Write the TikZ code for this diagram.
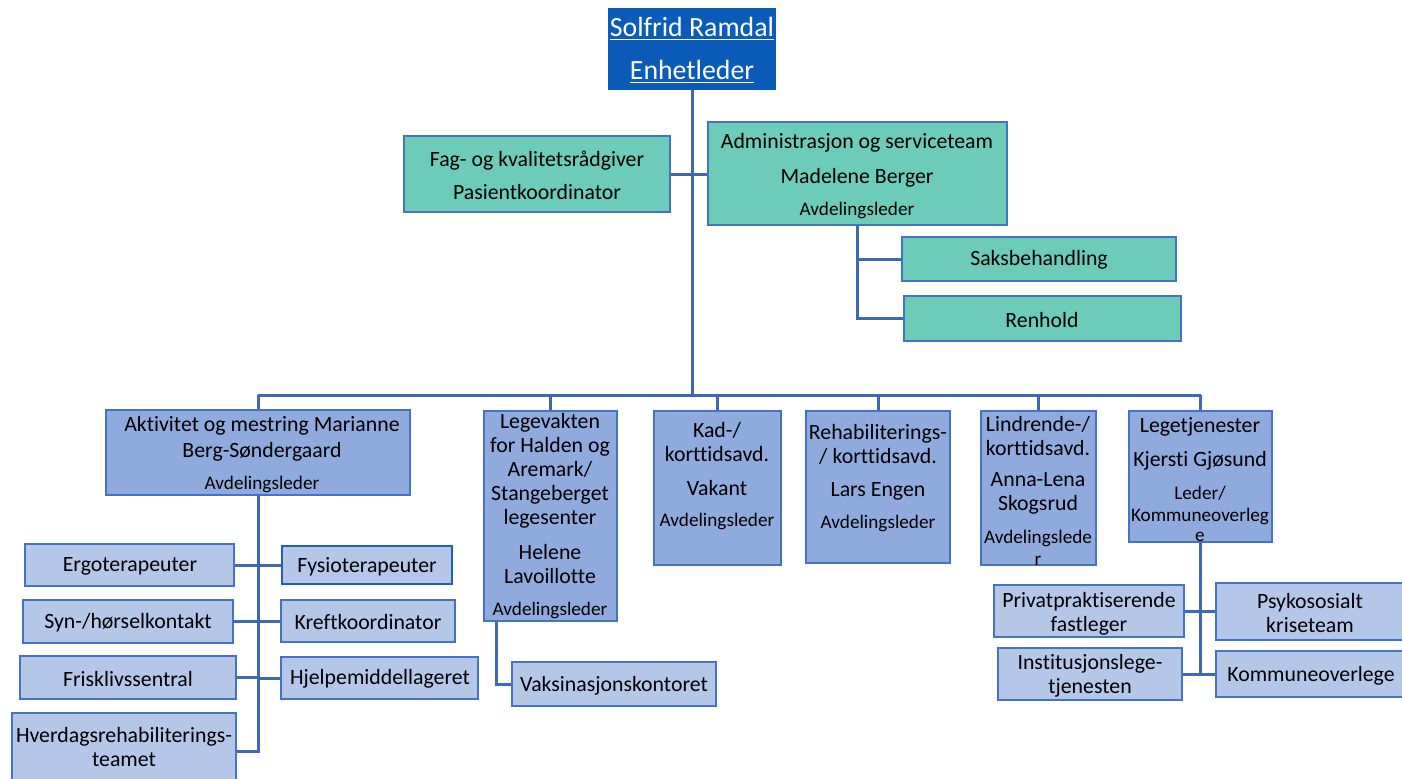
\documentclass[tikz,border=0pt]{standalone}
\usepackage{fontspec}
\setmainfont{Carlito}[Ligatures=NoCommon]
\usetikzlibrary{fit,calc}
\definecolor{topblue}{HTML}{0A5CB8}
\definecolor{tealfill}{HTML}{6CCBB9}
\definecolor{lvtwo}{HTML}{8FAADC}
\definecolor{lvthree}{HTML}{B4C7E7}
\definecolor{edgeblue}{HTML}{4472C4}
\definecolor{darkedge}{HTML}{1F5FB5}
\definecolor{connblue}{HTML}{3F67B6}
\newcommand{\fmain}{\fontsize{10.9}{12}\selectfont}
\newcommand{\fsmall}{\fontsize{9.6}{11}\selectfont}
\begin{document}
\begin{tikzpicture}[x=0.5pt,y=-0.5pt,
  boxbase/.style={draw=edgeblue, line width=1pt, inner sep=0pt},
  topbox/.style={boxbase, fill=topblue, draw=topblue},
  tealbox/.style={boxbase, fill=tealfill},
  ltwo/.style={boxbase, fill=lvtwo},
  lthree/.style={boxbase, fill=lvthree},
  txt/.style={align=center, font=\fmain, inner sep=0pt, text=black, yshift=-0.9pt},
  conn/.style={draw=connblue, line width=1.5pt}]
\useasboundingbox (0,0) rectangle (1402,778);
\fill[white] (0,0) rectangle (1402,778);
% boxes
\node[topbox, fit={(609,9) (775,89)}] (topB) {};
\node[tealbox, fit={(404,136) (670,212)}] (fagB) {};
\node[tealbox, fit={(708,122) (1007,225)}] (admB) {};
\node[tealbox, fit={(902,237) (1176,281)}] (saksB) {};
\node[tealbox, fit={(904,296) (1181,341)}] (renhB) {};
\node[ltwo, fit={(106,410) (410,495)}] (aktB) {};
\node[ltwo, fit={(484,411) (617,621)}] (legB) {};
\node[ltwo, fit={(654,411) (781,565)}] (kadB) {};
\node[ltwo, fit={(806,411) (950,563)}] (rehB) {};
\node[ltwo, fit={(981,411) (1096,565)}] (linB) {};
\node[ltwo, fit={(1129,411) (1272,542)}] (legetB) {};
\node[lthree, fit={(25,544) (234,586)}] (ergoB) {};
\node[lthree, fit={(23,600) (233,643)}] (synB) {};
\node[lthree, fit={(20,656) (236,699)}] (friskB) {};
\node[lthree, fit={(12,713) (236,790)}] (hverdB) {};
\node[lthree, draw=darkedge, line width=1.3pt, fit={(282,546) (452,584)}] (fysioB) {};
\node[lthree, fit={(281,600) (455,642)}] (kreftB) {};
\node[lthree, fit={(281,657) (478,699)}] (hjelpB) {};
\node[lthree, fit={(512,662) (716,706)}] (vaksB) {};
\node[lthree, fit={(994,585) (1184,637)}] (privB) {};
\node[lthree, fit={(1216,583) (1410,640)}] (psykB) {};
\node[lthree, fit={(998,648) (1182,700)}] (instB) {};
\node[lthree, fit={(1216,651) (1410,697)}] (kommB) {};
% texts
\node[txt, text=white, font=\fontsize{13.9}{21.5}\selectfont] (topT) at (692,49) {\underline{Solfrid Ramdal}\\\underline{Enhetleder}};
\node[txt] (fagT) at (537,173.5) {Fag- og kvalitetsrådgiver\\[4.5pt]Pasientkoordinator};
\node[txt] (admT) at (857,174.5) {Administrasjon og serviceteam\\[5.5pt]Madelene Berger\\[4pt]{\fsmall Avdelingsleder}};
\node[txt] (saksT) at (1039,258) {Saksbehandling};
\node[txt] (renhT) at (1042,318) {Renhold};
\node[txt] (aktT) at (262,453) {Aktivitet og mestring Marianne\\[1pt]Berg-Søndergaard\\[4pt]{\fsmall Avdelingsleder}};
\node[txt] (legT) at (550,514.5) {Legevakten\\for Halden og\\Aremark/\\Stangeberget\\legesenter\\[5.5pt]Helene\\Lavoillotte\\[4pt]{\fsmall Avdelingsleder}};
\node[txt] (kadT) at (717,474) {Kad-/\\korttidsavd.\\[5pt]Vakant\\[3.5pt]{\fsmall Avdelingsleder}};
\node[txt] (rehT) at (878,476) {Rehabiliterings-\\/ korttidsavd.\\[4.5pt]Lars Engen\\[4pt]{\fsmall Avdelingsleder}};
\node[txt] (linT) at (1038,489.5) {Lindrende-/\\korttidsavd.\\[3.5pt]Anna-Lena\\Skogsrud\\[4.5pt]{\fsmall Avdelingslede}\\[-1pt]{\fsmall r}};
\node[txt] (legetT) at (1200,477.5) {Legetjenester\\[5pt]Kjersti Gjøsund\\[4.5pt]{\fsmall Leder/}\\[-1pt]{\fsmall Kommuneoverleg}\\[-2pt]{\fsmall e}};
\node[txt] (ergoT) at (130,565) {Ergoterapeuter};
\node[txt] (synT) at (128,621) {Syn-/hørselkontakt};
\node[txt] (friskT) at (128,677) {Frisklivssentral};
\node[txt] (hverdT) at (124,745) {Hverdagsrehabiliterings-\\teamet};
\node[txt] (fysioT) at (367,565) {Fysioterapeuter};
\node[txt] (kreftT) at (368,620) {Kreftkoordinator};
\node[txt] (hjelpT) at (380,677) {Hjelpemiddellageret};
\node[txt] (vaksT) at (614,684) {Vaksinasjonskontoret};
\node[txt] (privT) at (1089,611.5) {Privatpraktiserende\\fastleger};
\node[txt] (psykT) at (1310,611.5) {Psykososialt\\kriseteam};
\node[txt] (instT) at (1090,674) {Institusjonslege-\\tjenesten};
\node[txt] (kommT) at (1311,674) {Kommuneoverlege};
% connectors
\coordinate (bus) at (692,395);
\draw[conn] (topB.south) -- (bus);
\draw[conn] (fagB.east) -- (fagB.east -| admB.west);
\draw[conn] (admB.south) |- (saksB.west);
\draw[conn] (admB.south) |- (renhB.west);
\draw[conn] (aktB.north |- bus) -- (legetB.north |- bus);
\foreach \n in {aktB,legB,kadB,rehB,linB,legetB} \draw[conn] (\n.north |- bus) -- (\n.north);
\draw[conn] (aktB.south) |- (hverdB.east);
\foreach \n in {ergoB,synB,friskB} \draw[conn] (aktB.south |- \n.east) -- (\n.east);
\foreach \n in {fysioB,kreftB,hjelpB} \draw[conn] (aktB.south |- \n.west) -- (\n.west);
\coordinate (legdrop) at ($(legB.south west)+(13,0)$);
\draw[conn] (legdrop) |- (vaksB.west);
\draw[conn] (legetB.south) -- (legetB.south |- instB.east);
\foreach \n in {privB,instB} \draw[conn] (legetB.south |- \n.east) -- (\n.east);
\foreach \n in {psykB,kommB} \draw[conn] (legetB.south |- \n.west) -- (\n.west);
\end{tikzpicture}
\end{document}
